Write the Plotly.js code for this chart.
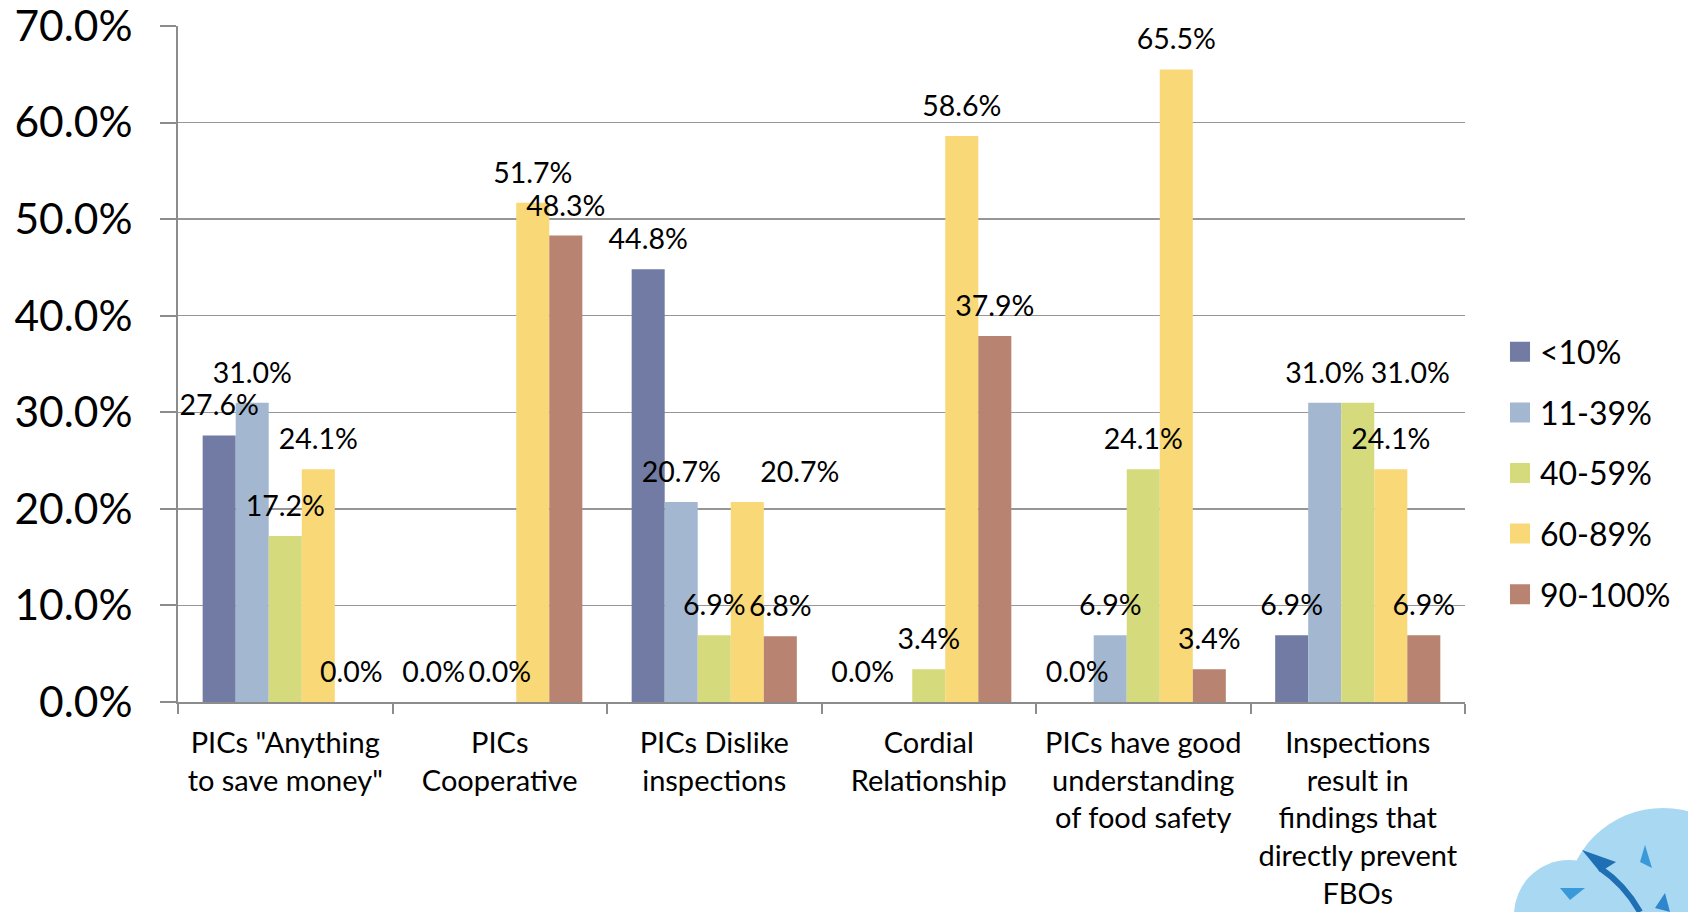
<!DOCTYPE html>
<html>
<head>
<meta charset="utf-8">
<script src="https://cdn.plot.ly/plotly-3.0.1.min.js"></script>
<style>
html,body{margin:0;padding:0;background:#fff;}
#chart{width:1688px;height:912px;}
</style>
</head>
<body>
<div id="chart"></div>
<script>
// ---- data ----
const categories = [
  'PICs "Anything<br>to save money"',
  'PICs<br>Cooperative',
  'PICs Dislike<br>inspections',
  'Cordial<br>Relationship',
  'PICs have good<br>understanding<br>of food safety',
  'Inspections<br>result in<br>findings that<br>directly prevent<br>FBOs'
];
const seriesNames = ['<10%', '11-39%', '40-59%', '60-89%', '90-100%'];
const lt10    = [27.6, 0.0, 44.8, 0.0, 0.0, 6.9];
const s11_39  = [31.0, null, 20.7, null, 6.9, 31.0];
const s40_59  = [17.2, 0.0, 6.9, 3.4, 24.1, 31.0];
const s60_89  = [24.1, 51.7, 20.7, 58.6, 65.5, 24.1];
const s90_100 = [0.0, 48.3, 6.8, 37.9, 3.4, 6.9];
const seriesValues = [lt10, s11_39, s40_59, s60_89, s90_100];
const seriesColors = ['#717BA3', '#A3B8D0', '#D5DB7C', '#F9D878', '#B88370'];
// label placement tweaks (reference labels nudged by hand)
const labelPositions = [
  null, null,
  ['top center','top center','top center','top center','top center','top right'],
  ['top center','top center','top right','top center','top center','top center'],
  null
];

const FONT = 'Lato, "Open Sans", sans-serif';
const traces = [];
seriesValues.forEach((vals, i) => {
  const y = vals.map(v => v === null ? null : v / 100);
  traces.push({
    type: 'bar', name: seriesNames[i], legendgroup: 'g' + i, x: categories, y: y,
    marker: {color: seriesColors[i]}, hoverinfo: 'skip'
  });
});
seriesValues.forEach((vals, i) => {
  const y = vals.map(v => v === null ? null : v / 100);
  traces.push({
    type: 'scatter', mode: 'markers+text', x: categories, y: y,
    text: vals.map(v => v === null ? '' : v.toFixed(1) + '%'),
    textposition: labelPositions[i] || 'top center',
    textfont: {family: FONT, size: 28.5, color: '#000'},
    marker: {size: 19, color: 'rgba(0,0,0,0)'},
    showlegend: false, hoverinfo: 'skip', cliponaxis: false
  });
});

const L = 178, R = 1465, T = 26, B = 702;
const px = x => (x - L) / (R - L);
const py = y => (B - y) / (B - T);

const layout = {
  width: 1688, height: 912,
  margin: {l: L, r: 1688 - R, t: T, b: 912 - B, pad: 0},
  paper_bgcolor: '#fff', plot_bgcolor: '#fff',
  barmode: 'group', bargap: 0.23, bargroupgap: 0,
  scattermode: 'group', scattergap: 0.23,
  font: {family: FONT, color: '#000'},
  xaxis: {
    type: 'category', showline: true, linecolor: '#8c8c8c', linewidth: 2,
    ticks: 'outside', ticklen: 10, tickwidth: 2, tickcolor: '#8c8c8c', tickson: 'boundaries',
    ticklabelstandoff: 14,
    showgrid: false, tickfont: {family: FONT, size: 29, color: '#000'}, fixedrange: true
  },
  yaxis: {
    range: [0, 0.7], dtick: 0.1, tickformat: '.1%',
    showline: true, linecolor: '#8c8c8c', linewidth: 2,
    ticks: 'outside', ticklen: 16, tickwidth: 2, tickcolor: '#8c8c8c',
    gridcolor: '#969696', gridwidth: 1.5, zeroline: false,
    ticklabelstandoff: 19, ticklabeloverflow: 'allow',
    tickfont: {family: FONT, size: 42.5, color: '#000'}, fixedrange: true
  },
  showlegend: true,
  legend: {
    x: px(1500), xanchor: 'left', y: py(473), yanchor: 'middle',
    font: {family: FONT, size: 32, color: '#000'},
    traceorder: 'grouped', tracegroupgap: 16, bgcolor: 'rgba(0,0,0,0)'
  },
  shapes: [
    {type: 'circle', xref: 'paper', yref: 'paper', layer: 'below',
     x0: px(1514), x1: px(1624), y0: py(970), y1: py(860),
     fillcolor: '#A9D8F2', line: {width: 0}},
    {type: 'circle', xref: 'paper', yref: 'paper', layer: 'below',
     x0: px(1566), x1: px(1760), y0: py(1000), y1: py(808),
     fillcolor: '#A9D8F2', line: {width: 0}},
    {type: 'path', xref: 'paper', yref: 'paper',
     path: 'M' + px(1582) + ',' + py(850) + ' L' + px(1616) + ',' + py(862) + ' L' + px(1600) + ',' + py(872) + ' Z',
     fillcolor: '#1F6FB5', line: {width: 0}},
    {type: 'path', xref: 'paper', yref: 'paper',
     path: 'M' + px(1600) + ',' + py(868) + ' Q' + px(1625) + ',' + py(885) + ' ' + px(1640) + ',' + py(912),
     line: {color: '#1F6FB5', width: 6}},
    {type: 'path', xref: 'paper', yref: 'paper',
     path: 'M' + px(1560) + ',' + py(888) + ' L' + px(1585) + ',' + py(888) + ' L' + px(1570) + ',' + py(900) + ' Z',
     fillcolor: '#3A9AD9', line: {width: 0}},
    {type: 'path', xref: 'paper', yref: 'paper',
     path: 'M' + px(1645) + ',' + py(845) + ' L' + px(1652) + ',' + py(868) + ' L' + px(1640) + ',' + py(862) + ' Z',
     fillcolor: '#3A9AD9', line: {width: 0}},
    {type: 'path', xref: 'paper', yref: 'paper',
     path: 'M' + px(1665) + ',' + py(893) + ' L' + px(1670) + ',' + py(912) + ' L' + px(1655) + ',' + py(908) + ' Z',
     fillcolor: '#2E86CC', line: {width: 0}}
  ]
};

Plotly.newPlot('chart', traces, layout, {staticPlot: true, displayModeBar: false}).then(() => {
  document.querySelectorAll('.legend .legendpoints path').forEach(p => {
    const t = p.getAttribute('transform') || '';
    p.setAttribute('transform', t + ' scale(1.67)');
  });
});
</script>
</body>
</html>
